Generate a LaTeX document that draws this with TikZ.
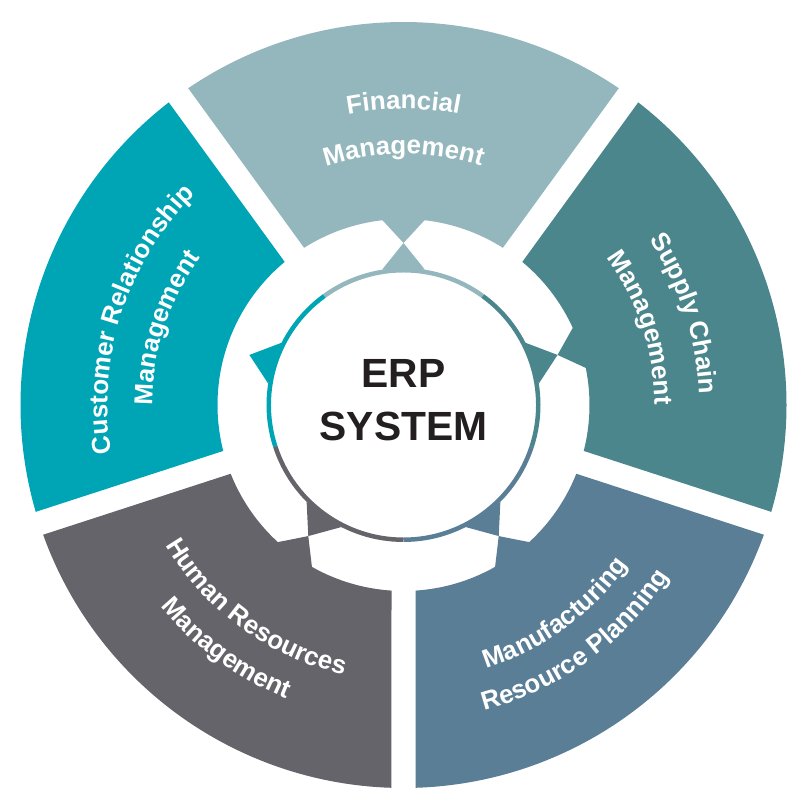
\documentclass[tikz,border=0pt]{standalone}
\usepackage{fontspec}
\setmainfont{Liberation Sans}
\usetikzlibrary{decorations.text}
\definecolor{fin}{HTML}{93B7BD}
\definecolor{scm}{HTML}{4B868D}
\definecolor{mrp}{HTML}{5B7E97}
\definecolor{hrm}{HTML}{64646A}
\definecolor{crm}{HTML}{00A5B5}
\definecolor{erpink}{HTML}{231F20}
\newcommand{\lbl}{\color{white}\bfseries\fontsize{14.7}{17}\selectfont}

\begin{document}
\begin{tikzpicture}[scale=2, ring/.style={line width=2.55pt},
		lbl/.style={decorate, decoration={text along path, text align=center}}]
	\useasboundingbox (-4.035,-3.95) rectangle (3.965,4.05);

	\fill[fin] (55.8:3.83) arc[start angle=55.8, end angle=124.2, radius=3.83] -- (122.3:1.86)
		arc[start angle=122.3, end angle=96.5, radius=1.86] -- (90:1.62) -- (83.5:1.86)
		arc[start angle=83.5, end angle=57.7, radius=1.86] -- cycle;
	\fill[scm] (-16.2:3.83) arc[start angle=-16.2, end angle=52.2, radius=3.83] -- (50.3:1.86)
		arc[start angle=50.3, end angle=24.5, radius=1.86] -- (18:1.62) -- (11.5:1.86)
		arc[start angle=11.5, end angle=-14.3, radius=1.86] -- cycle;
	\fill[mrp] (-88.2:3.83) arc[start angle=-88.2, end angle=-19.8, radius=3.83] -- (-21.7:1.86)
		arc[start angle=-21.7, end angle=-47.5, radius=1.86] -- (-54:1.62) -- (-60.5:1.86)
		arc[start angle=-60.5, end angle=-86.3, radius=1.86] -- cycle;
	\fill[hrm] (199.8:3.83) arc[start angle=199.8, end angle=268.2, radius=3.83] -- (266.3:1.86)
		arc[start angle=266.3, end angle=240.5, radius=1.86] -- (234:1.62) -- (227.5:1.86)
		arc[start angle=227.5, end angle=201.7, radius=1.86] -- cycle;
	\fill[crm] (127.8:3.83) arc[start angle=127.8, end angle=196.2, radius=3.83] -- (194.3:1.86)
		arc[start angle=194.3, end angle=129.7, radius=1.86] -- cycle;

	\fill[fin] (90:1.62) -- (99:1.37) -- (81:1.37) -- cycle;
	\fill[scm] (18:1.62) -- (27:1.37) -- (9:1.37) -- cycle;
	\fill[mrp] (-54:1.62) -- (-45:1.37) -- (-63:1.37) -- cycle;
	\fill[hrm] (234:1.62) -- (243:1.37) -- (225:1.37) -- cycle;
	\fill[crm] (162:1.62) -- (171:1.37) -- (153:1.37) -- cycle;

	\draw[fin, ring] (54:1.3475) arc[start angle=54, end angle=126, radius=1.3475];
	\draw[crm, ring] (126:1.3475) arc[start angle=126, end angle=198, radius=1.3475];
	\draw[hrm, ring] (198:1.3475) arc[start angle=198, end angle=270, radius=1.3475];
	\draw[mrp, ring] (270:1.3475) arc[start angle=270, end angle=342, radius=1.3475];
	\draw[scm, ring] (342:1.3475) arc[start angle=342, end angle=414, radius=1.3475];

	\path[lbl, decoration={text={|\lbl|Financial}}] (130:2.96) arc[start angle=130, end angle=50, radius=2.96];
	\path[lbl, decoration={text={|\lbl|Management}}] (130:2.51) arc[start angle=130, end angle=50, radius=2.51];
	\path[lbl, decoration={text={|\lbl|Supply Chain}}] (58:2.96) arc[start angle=58, end angle=-22, radius=2.96];
	\path[lbl, decoration={text={|\lbl|Management}}] (58:2.51) arc[start angle=58, end angle=-22, radius=2.51];
	\path[lbl, decoration={text={|\lbl|Customer Relationship}}] (202:2.96) arc[start angle=202, end angle=122, radius=2.96];
	\path[lbl, decoration={text={|\lbl|Management}}] (202:2.51) arc[start angle=202, end angle=122, radius=2.51];
	\path[lbl, decoration={text={|\lbl|Human Resources}}] (194:2.76) arc[start angle=194, end angle=274, radius=2.76];
	\path[lbl, decoration={text={|\lbl|Management}}] (194:3.16) arc[start angle=194, end angle=274, radius=3.16];
	\path[lbl, decoration={text={|\lbl|Manufacturing}}] (266:2.76) arc[start angle=266, end angle=346, radius=2.76];
	\path[lbl, decoration={text={|\lbl|Resource Planning}}] (266:3.16) arc[start angle=266, end angle=346, radius=3.16];

	\node[text=erpink, align=center, font=\bfseries\fontsize{23.2}{30}\selectfont] (erp) at (0,0.05) {ERP\\SYSTEM};
\end{tikzpicture}
\end{document}
